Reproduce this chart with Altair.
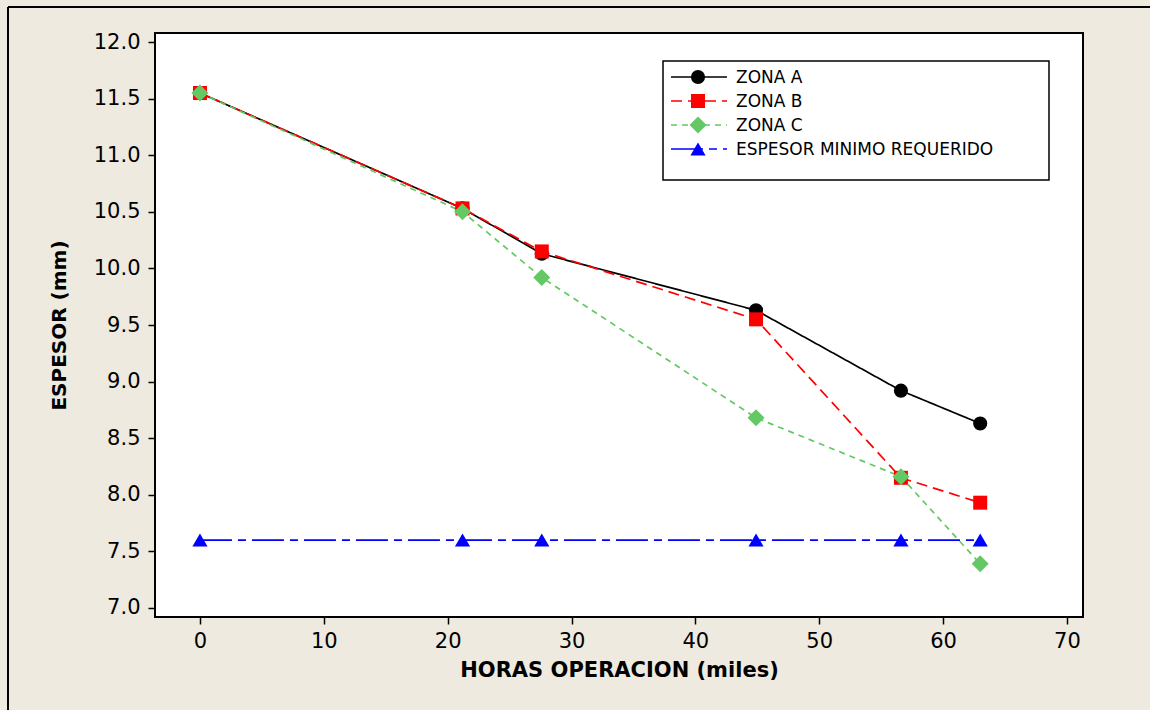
import altair as alt
import pandas as pd

# Horas de operación (miles) en cada inspección
horas = [0, 21.2, 27.6, 44.9, 56.6, 63.0]

# Espesor medido (mm) por zona
zona_a = [11.55, 10.53, 10.13, 9.63, 8.92, 8.63]
zona_b = [11.55, 10.53, 10.15, 9.55, 8.15, 7.93]
zona_c = [11.55, 10.50, 9.92, 8.68, 8.16, 7.39]
minimo = [7.6, 7.6, 7.6, 7.6, 7.6, 7.6]

series = ["ZONA A", "ZONA B", "ZONA C", "ESPESOR MINIMO REQUERIDO"]
valores = [zona_a, zona_b, zona_c, minimo]

# Estilo de cada serie: color, trazo, forma, tamaño de marcador
estilos = {
    "ZONA A": dict(color="#000000", dash=[1, 0], shape="circle", size=200),
    "ZONA B": dict(color="#FF0000", dash=[11, 6], shape="square", size=196),
    "ZONA C": dict(color="#64C864", dash=[6, 5], shape="diamond", size=290),
    "ESPESOR MINIMO REQUERIDO": dict(color="#0000FF", dash=[32, 6, 8, 6], shape="triangle-up", size=230),
}

df = pd.DataFrame(
    [
        {"serie": s, "horas": h, "espesor": v}
        for s, vals in zip(series, valores)
        for h, v in zip(horas, vals)
    ]
)

FONT = "DejaVu Sans"

x_enc = alt.X(
    "horas:Q",
    scale=alt.Scale(domain=[-3.63, 71.3], nice=False, zero=False),
    axis=alt.Axis(
        values=[0, 10, 20, 30, 40, 50, 60, 70],
        title="HORAS OPERACION (miles)",
        grid=False,
        domain=False,
        tickSize=7,
        tickWidth=1.5,
        tickColor="black",
        labelPadding=6,
        labelFontSize=21,
        labelFont=FONT,
        labelColor="black",
        titleFont=FONT,
        titleFontSize=21,
        titleFontWeight="bold",
        titleColor="black",
        titlePadding=8,
    ),
)
y_enc = alt.Y(
    "espesor:Q",
    scale=alt.Scale(domain=[6.92, 12.08], nice=False, zero=False),
    axis=alt.Axis(
        values=[7.0, 7.5, 8.0, 8.5, 9.0, 9.5, 10.0, 10.5, 11.0, 11.5, 12.0],
        format=".1f",
        title="ESPESOR (mm)",
        grid=False,
        domain=False,
        tickSize=7,
        tickWidth=1.5,
        tickColor="black",
        labelPadding=8,
        labelFontSize=21,
        labelFont=FONT,
        labelColor="black",
        titleFont=FONT,
        titleFontSize=20,
        titleFontWeight="bold",
        titleColor="black",
        titlePadding=24,
    ),
)

base = alt.Chart(df)
lineas = []
marcadores = []
for s in series:
    e = estilos[s]
    sub = base.transform_filter(alt.datum.serie == s)
    lineas.append(
        sub.mark_line(color=e["color"], strokeDash=e["dash"], strokeWidth=1.7).encode(
            x=x_enc, y=y_enc
        )
    )
    marcadores.append(
        sub.mark_point(
            shape=e["shape"], size=e["size"], filled=True, color=e["color"], opacity=1
        ).encode(x=x_enc, y=y_enc)
    )

# Leyenda dibujada a mano: recuadro, segmento, marcador y texto por fila
uno = alt.Chart(pd.DataFrame({"k": [0]}))
leyenda = [
    uno.mark_rect(fill="white", stroke="black", strokeWidth=1.5).encode(
        x=alt.value(508), x2=alt.value(894), y=alt.value(28), y2=alt.value(147)
    )
]
for i, s in enumerate(series):
    e = estilos[s]
    fila_y = 44 + 24 * i
    leyenda.append(
        uno.mark_rule(color=e["color"], strokeDash=e["dash"], strokeWidth=1.7).encode(
            x=alt.value(516), x2=alt.value(572), y=alt.value(fila_y)
        )
    )
    leyenda.append(
        uno.mark_point(
            shape=e["shape"], size=e["size"], filled=True, color=e["color"], opacity=1
        ).encode(x=alt.value(543), y=alt.value(fila_y))
    )
    leyenda.append(
        uno.mark_text(
            text=s, align="left", baseline="middle", font=FONT, fontSize=17,
            color="black",
        ).encode(x=alt.value(581), y=alt.value(fila_y + 1))
    )

# Marco exterior (borde superior e izquierdo)
marco = [
    uno.mark_rule(color="black", strokeWidth=2).encode(
        x=alt.value(-147), x2=alt.value(1000), y=alt.value(-26)
    ),
    uno.mark_rule(color="black", strokeWidth=2).encode(
        x=alt.value(-147), y=alt.value(-26), y2=alt.value(700)
    ),
]

chart = (
    alt.layer(*lineas, *marcadores, *leyenda, *marco)
    .properties(
        width=928,
        height=584,
        padding={"left": 155, "top": 33, "right": 67, "bottom": 93},
        autosize=alt.AutoSizeParams(type="none"),
        background="#EEEAE0",
    )
    .configure_view(stroke="black", strokeWidth=2, fill="white")
)

chart.save("out.html", embed_options={"renderer": "svg", "actions": False})
